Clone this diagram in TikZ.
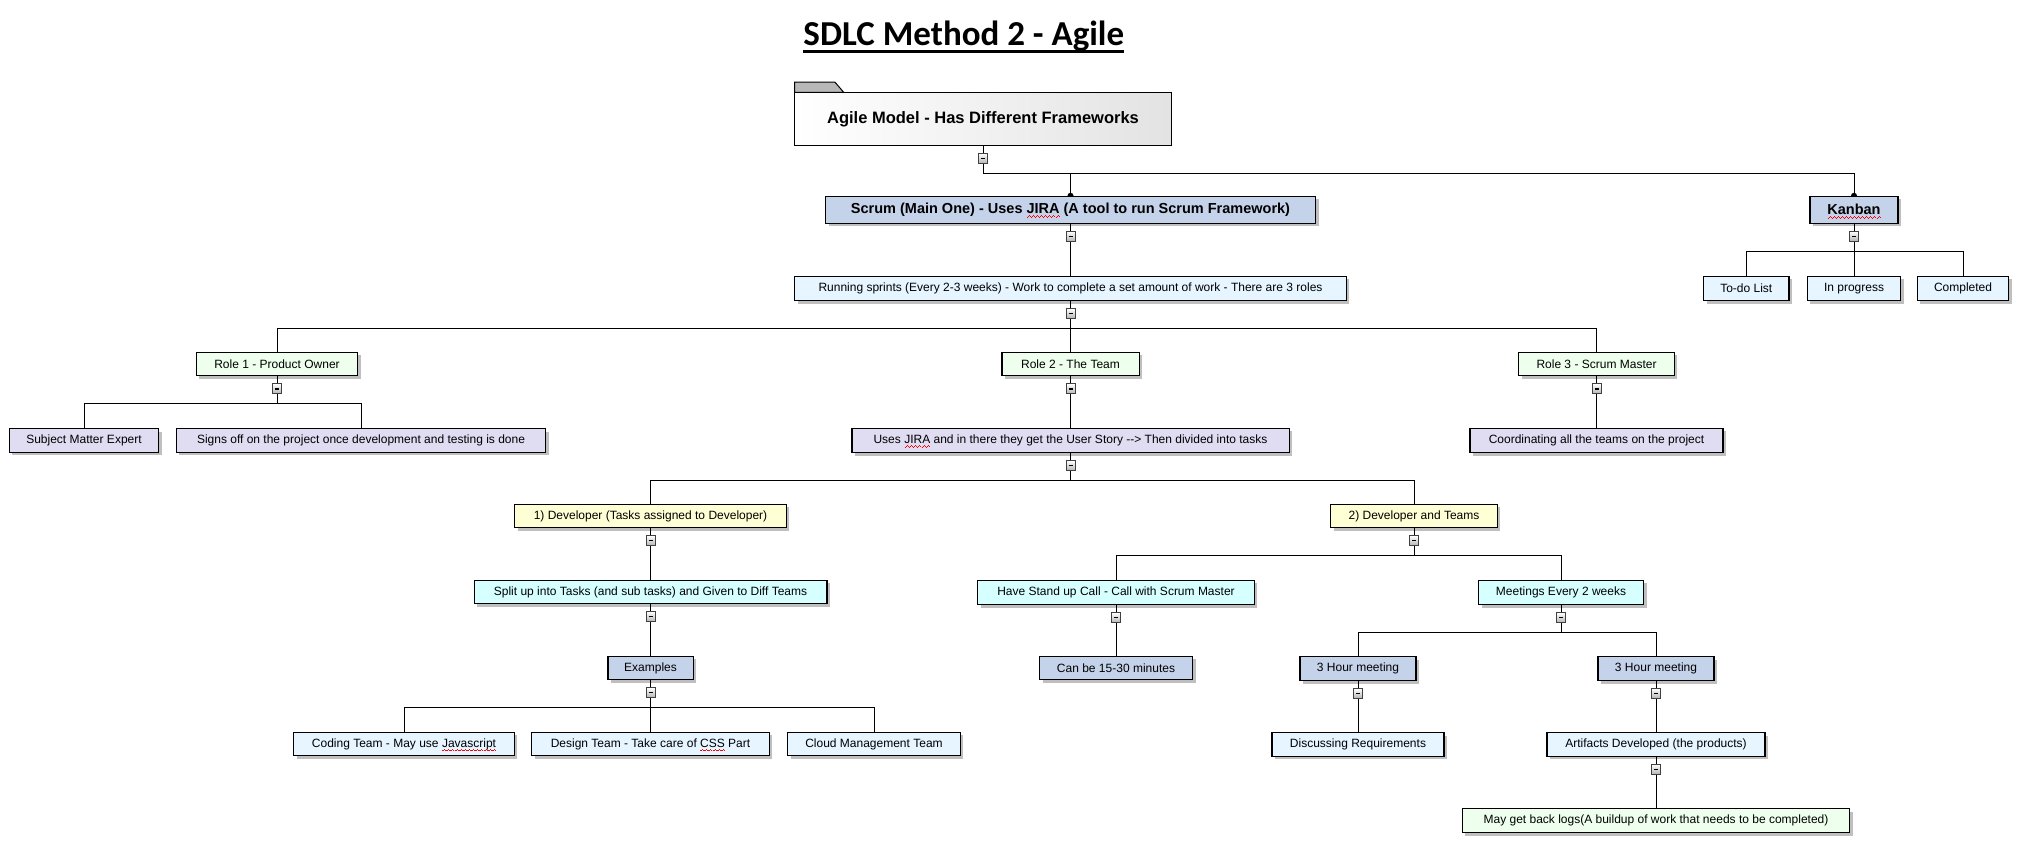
\documentclass[tikz,border=0pt]{standalone}
\usepackage{fontspec}
\setmainfont{Liberation Sans}
\newfontfamily\titlefont{Carlito}
\usetikzlibrary{shadows,calc}
\definecolor{cBlue}{HTML}{C5D3EA}
\definecolor{cLight}{HTML}{E6F5FF}
\definecolor{cGreen}{HTML}{EEFFEE}
\definecolor{cLav}{HTML}{E0DCF2}
\definecolor{cYel}{HTML}{FFFFD6}
\definecolor{cCyan}{HTML}{D6FFFF}
\newcommand\wavebit{\hbox{\rule[0pt]{1pt}{0.9pt}\rule[0.9pt]{1pt}{0.9pt}\rule[1.8pt]{1pt}{0.9pt}\rule[0.9pt]{1pt}{0.9pt}}}
\newcommand\sq[1]{\setbox0\hbox{#1}\rlap{\raisebox{-4.2pt}[0pt][0pt]{\hbox to\wd0{\color{red}\xleaders\wavebit\hfill}}}#1}
\newcommand\branch[2]{%
  \draw[conn] (#1.south) -- ($(#1.south)+(0,-27.5pt)$) coordinate (#1b);
  \foreach \c in {#2}{\draw[conn] (#1b) -| (\c.north);}
  \node[collapse] at ($(#1.south)+(0,-12.5pt)$) {\rule{4pt}{1.4pt}};
}
\begin{document}
\begin{tikzpicture}[x=1pt,y=-1pt,
  conn/.style={draw=black, line width=1pt},
  box/.style={draw=black, line width=1.1pt, inner sep=0pt, text=black,
    font=\fontsize{12}{14}\selectfont,
    drop shadow={shadow xshift=3pt, shadow yshift=-3pt, fill=black!25, opacity=1}},
  bbox/.style={box, font=\bfseries\fontsize{14.5}{17}\selectfont},
  collapse/.style={draw=black!75, line width=0.8pt, inner sep=0pt,
    minimum width=9pt, minimum height=10pt, top color=white, bottom color=black!30,
    text=black},
  hdot/.style={fill=black}]
\fill[white] (0,0) rectangle (2019,849);
\useasboundingbox (0,0) rectangle (2019,849);

% title
\node[font=\titlefont\bfseries\fontsize{35}{40}\selectfont, inner sep=0pt, anchor=base] (title) at (963.8,45) {SDLC Method 2 - Agile};
\draw[line width=2.5pt] ($(title.base west)+(0,-6.5pt)$) -- ($(title.base east)+(0,-6.5pt)$);

% root
\draw[line width=1pt, fill=black!28] (794.6,92.3) -- (794.6,82) -- (834.8,82) -- (843.7,92.3) -- cycle;
\node[draw=black, line width=1.1pt, left color=white, right color=black!11, inner sep=0pt,
  minimum width=376.8pt, minimum height=53pt, font=\bfseries\fontsize{16.5}{19}\selectfont]
  (agile) at (983,118.8) {Agile Model - Has Different Frameworks};

% level 1
\node[bbox, fill=cBlue, minimum width=490pt, minimum height=27pt] (scrum) at (1070.5,209.8) {Scrum (Main One) - Uses \sq{JIRA} (A tool to run Scrum Framework)};
\node[bbox, fill=cBlue, minimum width=88pt, minimum height=27pt] (kanban) at (1854,209.8) {\sq{Kanban}};

% kanban children
\node[box, fill=cLight, minimum width=85.3pt, minimum height=24.4pt] (todo) at (1746.3,288.5) {To-do List};
\node[box, fill=cLight, minimum width=93.6pt, minimum height=24.4pt] (inprog) at (1854,288.5) {In progress};
\node[box, fill=cLight, minimum width=91.6pt, minimum height=24.4pt] (completed) at (1963,288.5) {Completed};

% scrum
\node[box, fill=cLight, minimum width=551.4pt, minimum height=24.4pt] (sprints) at (1070.5,288.5) {Running sprints (Every 2-3 weeks) - Work to complete a set amount of work - There are 3 roles};

\node[box, fill=cGreen, minimum width=161.6pt, minimum height=23.6pt] (role1) at (277,364) {Role 1 - Product Owner};
\node[box, fill=cGreen, minimum width=137.1pt, minimum height=23.6pt] (role2) at (1070.5,364) {Role 2 - The Team};
\node[box, fill=cGreen, minimum width=155.2pt, minimum height=23.6pt] (role3) at (1596.5,364) {Role 3 - Scrum Master};

\node[box, fill=cLav, minimum width=149.5pt, minimum height=23.6pt] (sme) at (84,440.5) {Subject Matter Expert};
\node[box, fill=cLav, minimum width=369.7pt, minimum height=23.6pt] (signs) at (361,440.5) {Signs off on the project once development and testing is done};
\node[box, fill=cLav, minimum width=437.1pt, minimum height=24.4pt] (usesjira) at (1070.5,440.5) {Uses \sq{JIRA} and in there they get the User Story -{}-{}> Then divided into tasks};
\node[box, fill=cLav, minimum width=253pt, minimum height=24.4pt] (coord) at (1596.5,440.5) {Coordinating all the teams on the project};

\node[box, fill=cYel, minimum width=271.2pt, minimum height=23.4pt] (dev1) at (650.5,516) {1) Developer (Tasks assigned to Developer)};
\node[box, fill=cYel, minimum width=166.5pt, minimum height=23.4pt] (dev2) at (1414,516) {2) Developer and Teams};

\node[box, fill=cCyan, minimum width=352.9pt, minimum height=23.4pt] (split) at (650.5,592) {Split up into Tasks (and sub tasks) and Given to Diff Teams};
\node[box, fill=cCyan, minimum width=276.4pt, minimum height=24.4pt] (standup) at (1116,592.5) {Have Stand up Call - Call with Scrum Master};
\node[box, fill=cCyan, minimum width=165pt, minimum height=24.4pt] (meetings) at (1561,592.5) {Meetings Every 2 weeks};

\node[box, fill=cBlue, minimum width=85.1pt, minimum height=23.4pt] (examples) at (650.5,668) {Examples};
\node[box, fill=cBlue, minimum width=153pt, minimum height=23.4pt] (canbe) at (1116,668) {Can be 15-30 minutes};
\node[box, fill=cBlue, minimum width=116pt, minimum height=24pt] (hour1) at (1358,668.5) {3 Hour meeting};
\node[box, fill=cBlue, minimum width=116pt, minimum height=24pt] (hour2) at (1656,668.5) {3 Hour meeting};

\node[box, fill=cLight, minimum width=220.9pt, minimum height=23.4pt] (coding) at (404,744) {Coding Team - May use \sq{Javascript}};
\node[box, fill=cLight, minimum width=237.3pt, minimum height=23.4pt] (design) at (650.5,744) {Design Team - Take care of \sq{CSS} Part};
\node[box, fill=cLight, minimum width=172.6pt, minimum height=23.4pt] (cloud) at (874,744) {Cloud Management Team};
\node[box, fill=cLight, minimum width=172pt, minimum height=23.6pt] (discuss) at (1358,744.5) {Discussing Requirements};
\node[box, fill=cLight, minimum width=218pt, minimum height=23.6pt] (artifacts) at (1656,744.5) {Artifacts Developed (the products)};
\node[box, fill=cGreen, minimum width=387.1pt, minimum height=24pt] (backlogs) at (1656,820.7) {May get back logs(A buildup of work that needs to be completed)};

% connectors
\branch{agile}{scrum,kanban}
\branch{kanban}{todo,inprog,completed}
\branch{scrum}{sprints}
\branch{sprints}{role1,role2,role3}
\branch{role1}{sme,signs}
\branch{role2}{usesjira}
\branch{role3}{coord}
\branch{usesjira}{dev1,dev2}
\branch{dev1}{split}
\branch{dev2}{standup,meetings}
\branch{split}{examples}
\branch{standup}{canbe}
\branch{meetings}{hour1,hour2}
\branch{examples}{coding,design,cloud}
\branch{hour1}{discuss}
\branch{hour2}{artifacts}
\branch{artifacts}{backlogs}

% end dots of the root connectors
\fill[hdot] ($(scrum.north)+(-3pt,0)$) arc[start angle=180, end angle=0, radius=3pt] -- cycle;
\fill[hdot] ($(kanban.north)+(-3pt,0)$) arc[start angle=180, end angle=0, radius=3pt] -- cycle;
\end{tikzpicture}
\end{document}
